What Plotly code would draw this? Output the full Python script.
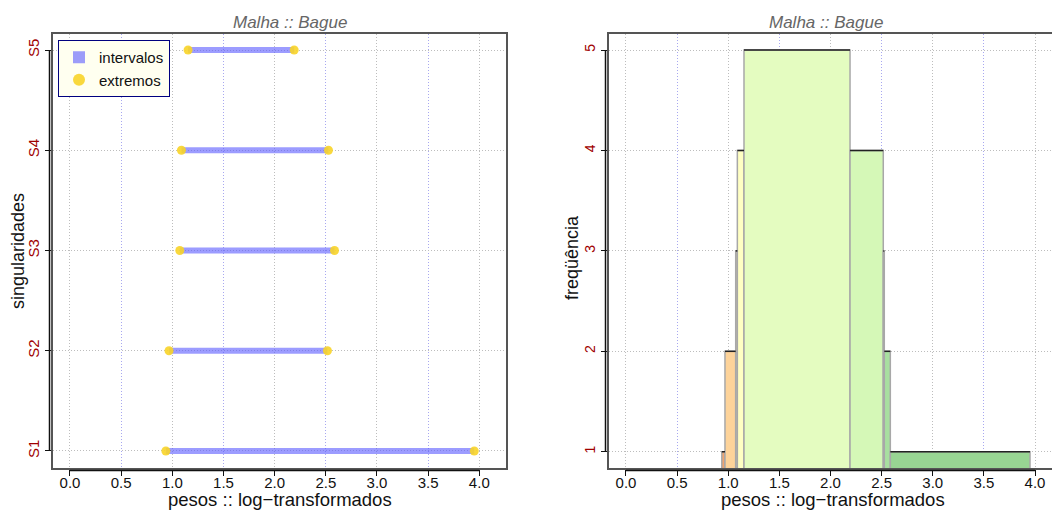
import plotly.graph_objects as go

# Intervalos observados por singularidade (pesos log-transformados)
singularidades = ["S1", "S2", "S3", "S4", "S5"]
inferior = [0.937, 0.968, 1.073, 1.089, 1.154]
superior = [3.951, 2.516, 2.585, 2.526, 2.191]

x_ticks = [0.0, 0.5, 1.0, 1.5, 2.0, 2.5, 3.0, 3.5, 4.0]
x_inteiros = [0, 1, 2, 3, 4]
freq_ticks = [1, 2, 3, 4, 5]

titulo = "Malha :: Bague"
rotulo_x = "pesos :: log\u2212transformados"
rotulo_y_esq = "singularidades"
rotulo_y_dir = "freq\u00fc\u00eancia"

# cores das classes do histograma de intervalos
cores_classes = ["#F2A36E", "#FDD39A", "#FCEDB2", "#FFFFC3", "#E4FCC0",
                 "#D5F8B7", "#BDEBAC", "#A8DFA0", "#98D593"]

# histograma de intervalos: classes definidas pelos extremos ordenados
cortes = sorted(set(inferior + superior))
esq = cortes[:-1]
dir_ = cortes[1:]
freq = [sum(1 for a, b in zip(inferior, superior) if a <= l and r <= b)
        for l, r in zip(esq, dir_)]
meio = [(l + r) / 2 for l, r in zip(esq, dir_)]
larg = [r - l for l, r in zip(esq, dir_)]

FONT = "Liberation Sans, Arial, Helvetica, sans-serif"
W, H = 1052, 511
GRAY_GRID = "#BDBDBD"
BLUE_GRID = "#A8A8F0"
DOTS = "1px,2px"
FRAME = "#555555"
DARKRED = "#A00000"

fig = go.Figure()

# --- painel esquerdo: intervalos ---
lx, ly = [], []
for s, a, b in zip(singularidades, inferior, superior):
    lx += [a, b, None]
    ly += [s, s, None]
fig.add_trace(go.Scatter(x=lx, y=ly, mode="lines",
                         line=dict(color="rgba(90,90,255,0.6)", width=6),
                         showlegend=False, hoverinfo="skip",
                         xaxis="x", yaxis="y"))
px_, py_ = [], []
for s, a, b in zip(singularidades, inferior, superior):
    px_ += [a, b]
    py_ += [s, s]
fig.add_trace(go.Scatter(x=px_, y=py_, mode="markers",
                         marker=dict(color="rgba(248,212,40,0.9)", size=9),
                         showlegend=False, xaxis="x", yaxis="y"))
# entradas da legenda
fig.add_trace(go.Scatter(x=[None], y=[None], mode="markers", name="intervalos",
                         marker=dict(symbol="square", color="rgba(90,90,255,0.6)", size=11),
                         xaxis="x", yaxis="y"))
fig.add_trace(go.Scatter(x=[None], y=[None], mode="markers", name="extremos",
                         marker=dict(symbol="circle", color="rgba(248,212,40,0.9)", size=12),
                         xaxis="x", yaxis="y"))

# --- painel direito: histograma ---
fig.add_trace(go.Bar(x=meio, y=freq, width=larg,
                     marker=dict(color=cores_classes,
                                 line=dict(color="#A8A8A8", width=1.5)),
                     showlegend=False, xaxis="x2", yaxis="y2"))
tx, ty = [], []
for l, r, f in zip(esq, dir_, freq):
    tx += [l, r, None]
    ty += [f, f, None]
fig.add_trace(go.Scatter(x=tx, y=ty, mode="lines",
                         line=dict(color="#222222", width=1.5),
                         showlegend=False, hoverinfo="skip",
                         xaxis="x2", yaxis="y2"))

# eixos auxiliares para a grade nas posições inteiras
fig.add_trace(go.Scatter(x=[], y=[], showlegend=False, xaxis="x3", yaxis="y"))
fig.add_trace(go.Scatter(x=[], y=[], showlegend=False, xaxis="x4", yaxis="y2"))

dom_l = [53 / W, 506 / W]
dom_r = [609 / W, 1.0]
dom_y = [43 / H, 477 / H]
rng_l = [-0.166, 4.261]
rng_r = [-0.166, 4.166]

tickfont_x = dict(family=FONT, size=15, color="#111111")
base_x = dict(tickmode="array", tickvals=x_ticks, tickformat=".1f",
              showgrid=True, gridcolor=BLUE_GRID, griddash=DOTS, gridwidth=1,
              zeroline=False, ticks="outside", ticklen=6, tickwidth=1.3,
              tickcolor="#111111", tickfont=tickfont_x, ticklabelstandoff=-6,
              showline=True, linecolor=FRAME, linewidth=2)
grid_x = dict(tickmode="array", tickvals=x_inteiros, showgrid=True,
              gridcolor=GRAY_GRID, griddash=DOTS, gridwidth=1,
              showticklabels=False, ticks="", zeroline=False, showline=False)

fig.update_layout(
    width=W, height=H, autosize=False,
    margin=dict(l=0, r=0, t=0, b=0),
    paper_bgcolor="white", plot_bgcolor="white",
    font=dict(family=FONT, color="#111111"),
    barmode="overlay",
    xaxis=dict(domain=dom_l, range=rng_l, anchor="y", mirror=True, **base_x),
    xaxis2=dict(domain=dom_r, range=rng_r, anchor="y2", mirror=True, **base_x),
    xaxis3=dict(domain=dom_l, range=rng_l, anchor="y", overlaying="x", **grid_x),
    xaxis4=dict(domain=dom_r, range=rng_r, anchor="y2", overlaying="x2", **grid_x),
    yaxis=dict(domain=dom_y, anchor="x", type="category",
               categoryorder="array", categoryarray=singularidades,
               range=[-0.17, 4.16], showgrid=True, gridcolor=GRAY_GRID,
               griddash=DOTS, zeroline=False, ticks="outside", ticklen=6,
               tickwidth=1.3, tickcolor="#111111", tickangle=-90,
               tickfont=dict(family=FONT, size=15, color=DARKRED),
               showline=True, linecolor=FRAME, linewidth=2, mirror=True),
    yaxis2=dict(domain=dom_y, anchor="x2", range=[0.838, 5.16],
                tickmode="array", tickvals=freq_ticks, showgrid=True,
                gridcolor=GRAY_GRID, griddash=DOTS, zeroline=False,
                ticks="outside", ticklen=6, tickwidth=1.3, tickcolor="#111111",
                tickangle=-90, tickfont=dict(family=FONT, size=14, color=DARKRED),
                showline=True, linecolor=FRAME, linewidth=2, mirror=False),
    legend=dict(x=58 / W, y=(H - 40) / H, xanchor="left", yanchor="top",
                bgcolor="#FFFFF0", bordercolor="#000080", borderwidth=1,
                font=dict(family=FONT, size=15, color="#111111"),
                tracegroupgap=0, itemsizing="constant", itemwidth=30),
    showlegend=True,
)

# traços de eixo no estilo clássico (do primeiro ao último rótulo)
eixo = dict(color="#111111", width=1.5)
y_axis_line = (H - 470.5) / H
fig.add_shape(type="line", xref="x", yref="paper", x0=x_ticks[0], x1=x_ticks[-1],
              y0=y_axis_line, y1=y_axis_line, line=eixo)
fig.add_shape(type="line", xref="x2", yref="paper", x0=x_ticks[0], x1=x_ticks[-1],
              y0=y_axis_line, y1=y_axis_line, line=eixo)
fig.add_shape(type="line", xref="paper", yref="y", x0=49.5 / W, x1=49.5 / W,
              y0=0, y1=len(singularidades) - 1, line=eixo)
fig.add_shape(type="line", xref="paper", yref="y2", x0=605.5 / W, x1=605.5 / W,
              y0=freq_ticks[0], y1=freq_ticks[-1], line=eixo)

# títulos
tit_font = dict(family=FONT, size=17, color="#666666")
for xc in (290 / W, 826 / W):
    fig.add_annotation(text="<i>" + titulo + "</i>", x=xc, y=(H - 22) / H,
                       xref="paper", yref="paper", showarrow=False,
                       font=tit_font, xanchor="center", yanchor="middle")
lab_font = dict(family=FONT, size=18.5, color="#111111")
for xc in (279.5 / W, 833 / W):
    fig.add_annotation(text=rotulo_x, x=xc, y=(H - 499.5) / H,
                       xref="paper", yref="paper", showarrow=False,
                       font=lab_font, xanchor="center", yanchor="middle")
lab_font_y = dict(family=FONT, size=18, color="#111111")
fig.add_annotation(text=rotulo_y_esq, x=18 / W, y=(H - 251) / H,
                   xref="paper", yref="paper", showarrow=False, textangle=-90,
                   font=lab_font_y, xanchor="center", yanchor="middle")
fig.add_annotation(text=rotulo_y_dir, x=572 / W, y=(H - 258) / H,
                   xref="paper", yref="paper", showarrow=False, textangle=-90,
                   font=lab_font_y, xanchor="center", yanchor="middle")

fig.write_html("out.html")
